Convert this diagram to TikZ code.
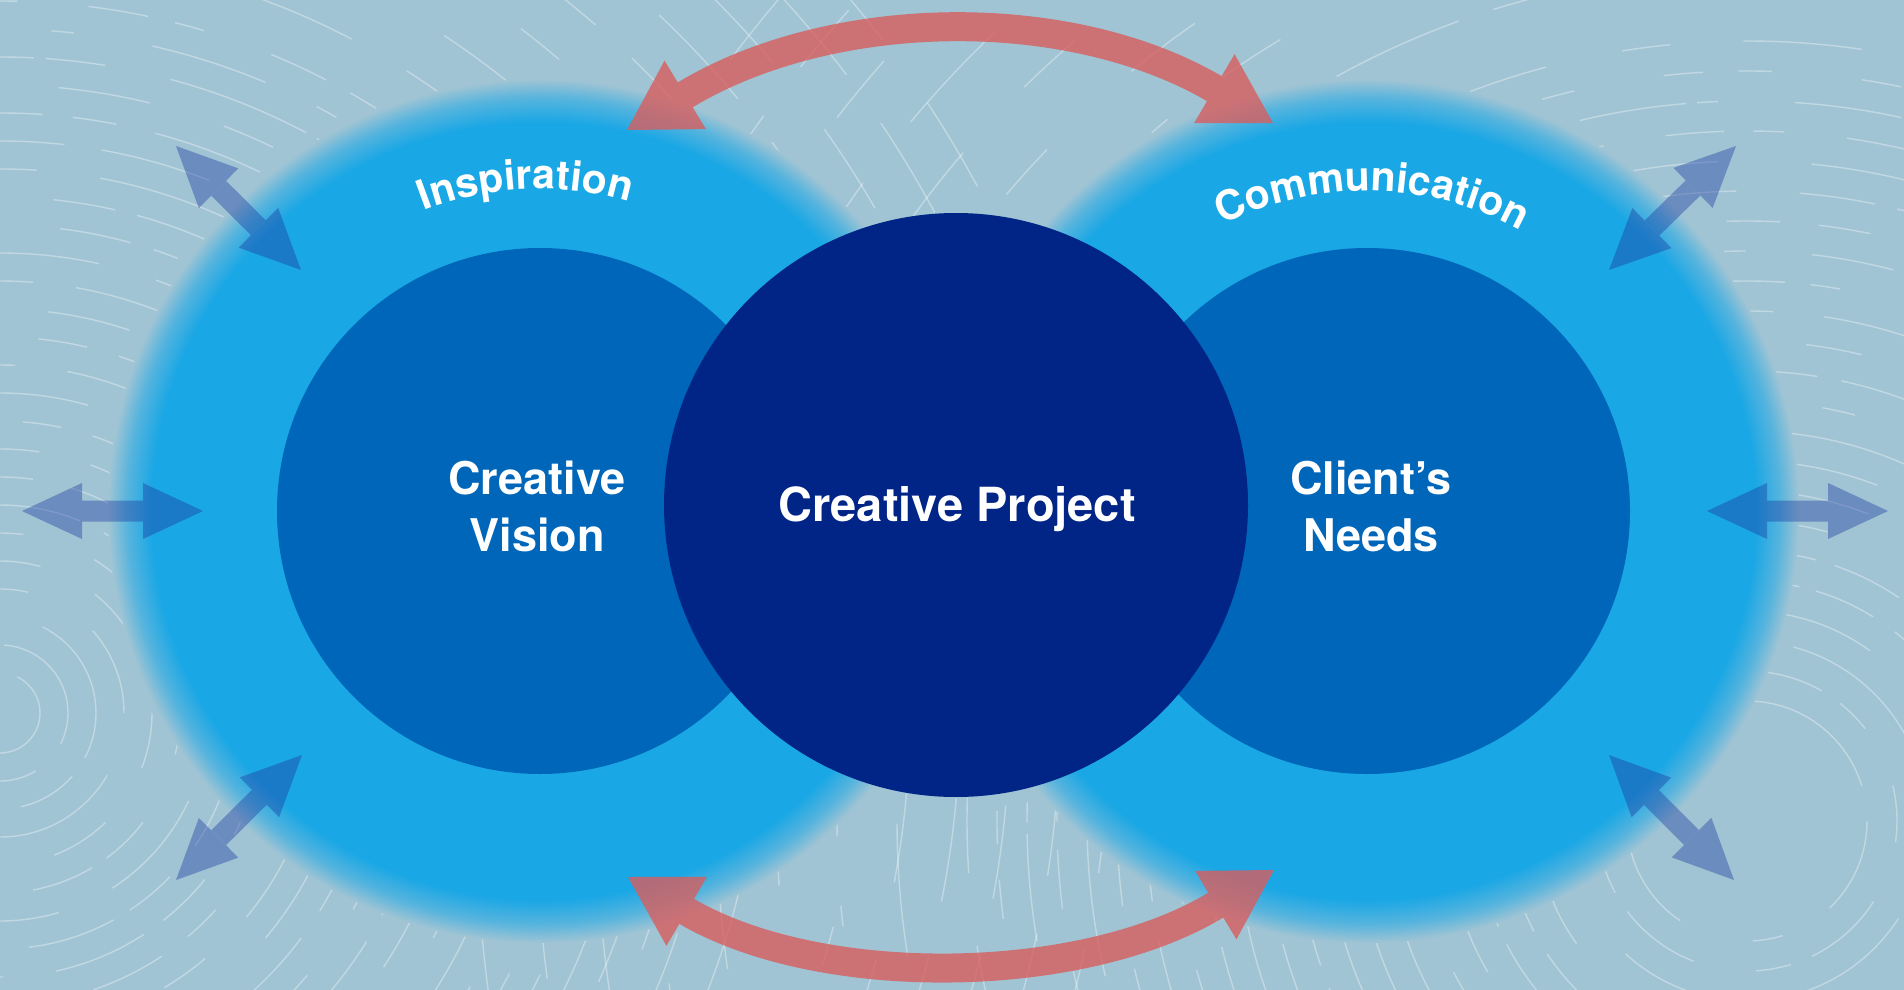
\documentclass[tikz,border=0pt]{standalone}
\usepackage{fontspec}
\setmainfont{TeX Gyre Heros}
\usetikzlibrary{arrows.meta,decorations.text}

\definecolor{bgc}{RGB}{160,196,212}
\definecolor{skyb}{RGB}{26,167,229}
\definecolor{midb}{RGB}{0,102,186}
\definecolor{navyb}{RGB}{0,37,135}
\definecolor{redarr}{RGB}{216,94,94}
\definecolor{bluearr}{RGB}{27,56,157}

\pgfdeclareradialshading{glowshade}{\pgfpoint{0bp}{0bp}}{color(0bp)=(skyb); color(22.5bp)=(skyb); color(23.9bp)=(skyb!55!bgc); color(25bp)=(bgc); color(50bp)=(bgc)}

\newcommand\curvefont{\bfseries\fontsize{41}{41}\selectfont}

\tikzset{
  bgline/.style={draw=white, opacity=0.35, line width=1.4pt},
  innerc/.style={circle, fill=midb, minimum size=526pt, inner sep=0pt},
  centerc/.style={circle, fill=navyb, minimum size=584pt, inner sep=0pt},
  lbl/.style={text=white, font=\bfseries\fontsize{45}{57}\selectfont, align=center, inner sep=0pt},
  redline/.style={draw=redarr, line width=29pt},
  redtip/.style={draw=redarr, line width=29pt,
    arrows={-Triangle[length=68pt,width=80pt,line width=0pt]}},
  blueshaft/.style={draw=bluearr, line width=21pt,
    arrows={Triangle[length=60pt,width=56pt,line width=0pt]-Triangle[length=60pt,width=56pt,line width=0pt]}},
}

\begin{document}
\begin{tikzpicture}[x=1pt,y=-1pt]
\useasboundingbox (0,0) rectangle (1904,990);
\fill[bgc] (0,0) rectangle (1904,990);

% background dashed arcs
\coordinate (lc) at (0,713);
\coordinate (rc) at (1747,821);
\begin{scope}
\clip (0,0) rectangle (1904,990);
\pgfmathsetseed{11}
\foreach \r in {40,68,...,720} {
  \pgfmathsetmacro\da{30+170*rnd}
  \pgfmathsetmacro\db{10+70*rnd}
  \pgfmathsetmacro\dc{20+120*rnd}
  \pgfmathsetmacro\dd{10+90*rnd}
  \pgfmathsetmacro\ph{300*rnd}
  \draw[bgline, dash pattern=on \da pt off \db pt on \dc pt off \dd pt, dash phase=\ph pt] (lc) circle[radius=\r];
}
\foreach \r in {760,810,...,1150} {
  \pgfmathsetmacro\da{30+170*rnd}
  \pgfmathsetmacro\db{30+120*rnd}
  \pgfmathsetmacro\dc{20+120*rnd}
  \pgfmathsetmacro\dd{30+120*rnd}
  \pgfmathsetmacro\ph{300*rnd}
  \draw[bgline, dash pattern=on \da pt off \db pt on \dc pt off \dd pt, dash phase=\ph pt] (lc) circle[radius=\r];
}
\foreach \r in {120,150,...,800} {
  \pgfmathsetmacro\da{30+170*rnd}
  \pgfmathsetmacro\db{10+70*rnd}
  \pgfmathsetmacro\dc{20+120*rnd}
  \pgfmathsetmacro\dd{10+90*rnd}
  \pgfmathsetmacro\ph{300*rnd}
  \draw[bgline, dash pattern=on \da pt off \db pt on \dc pt off \dd pt, dash phase=\ph pt] (rc) circle[radius=\r];
}
\foreach \r in {850,910,...,1300} {
  \pgfmathsetmacro\da{30+170*rnd}
  \pgfmathsetmacro\db{30+120*rnd}
  \pgfmathsetmacro\dc{20+120*rnd}
  \pgfmathsetmacro\dd{30+120*rnd}
  \pgfmathsetmacro\ph{300*rnd}
  \draw[bgline, dash pattern=on \da pt off \db pt on \dc pt off \dd pt, dash phase=\ph pt] (rc) circle[radius=\r];
}
\end{scope}

% glows
\shade[shading=glowshade] (540,511) circle[radius=432];
\shade[shading=glowshade] (1367,511) circle[radius=432];

% circles
\node[innerc] (cvis) at (540,511) {};
\node[innerc] (cneed) at (1367,511) {};
\node[centerc] (proj) at (956,505) {};

% labels
\node[lbl] (cvt) at (537,506) {Creative\\Vision};
\node[lbl] (cnt) at (1371,506) {Client’s\\Needs};
\node[lbl, font=\bfseries\fontsize{47}{57}\selectfont] (cpt) at (957,509) {Creative Project};

\path[decorate, decoration={text along path, text align=center, text={|\curvefont\color{white}|Inspiration}}]
  (cvis.center) ++(-127.5:322) arc[start angle=-127.5, end angle=-57.5, radius=322];
\path[decorate, decoration={text along path, text align=center, text={|\curvefont\color{white}|Communication}}]
  (cneed.center) ++(-129:320) arc[start angle=-129, end angle=-49, radius=320];

% red arrows
\coordinate (ra1) at (627,130);  \coordinate (ra1b) at (685,95);
\coordinate (ra2) at (1273,123); \coordinate (ra2b) at (1215,89);
\coordinate (rb1) at (628,877);  \coordinate (rb1b) at (686,911);
\coordinate (rb2) at (1274,870); \coordinate (rb2b) at (1216,905);
\begin{scope}[transparency group, opacity=0.8]
\draw[redline] (ra1b) .. controls (831,7) and (1068,3) .. (ra2b);
\draw[redtip] (ra1b) -- (ra1);
\draw[redtip] (ra2b) -- (ra2);
\end{scope}
\begin{scope}[transparency group, opacity=0.8]
\draw[redline] (rb1b) .. controls (821,990) and (1082,986) .. (rb2b);
\draw[redtip] (rb1b) -- (rb1);
\draw[redtip] (rb2b) -- (rb2);
\end{scope}

% blue arrows
\coordinate (b1a) at (176,146); \coordinate (b1b) at (301,270);
\coordinate (b2a) at (22,511);  \coordinate (b2b) at (203,511);
\coordinate (b3a) at (176,880); \coordinate (b3b) at (302,755);
\coordinate (b4a) at (1736,146); \coordinate (b4b) at (1609,270);
\coordinate (b5a) at (1707,511); \coordinate (b5b) at (1888,511);
\coordinate (b6a) at (1609,755); \coordinate (b6b) at (1734,880);
\begin{scope}[transparency group, opacity=0.4]
\draw[blueshaft] (b1a) -- (b1b);
\draw[blueshaft] (b2a) -- (b2b);
\draw[blueshaft] (b3a) -- (b3b);
\draw[blueshaft] (b4a) -- (b4b);
\draw[blueshaft] (b5a) -- (b5b);
\draw[blueshaft] (b6a) -- (b6b);
\end{scope}
\end{tikzpicture}
\end{document}
